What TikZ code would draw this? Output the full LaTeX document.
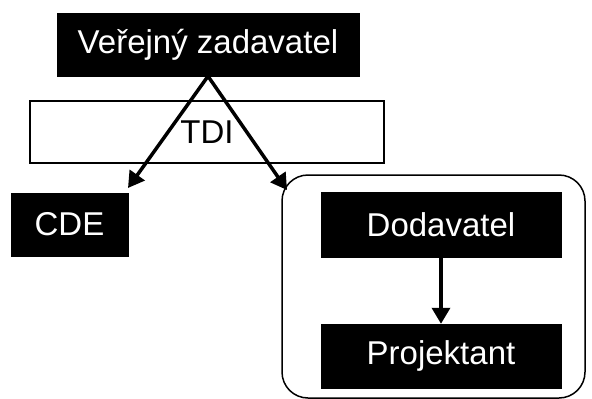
\documentclass[tikz,border=0pt]{standalone}
\usepackage{fontspec}
\setmainfont{Liberation Sans}
\usetikzlibrary{arrows.meta,positioning}
\begin{document}
\begin{tikzpicture}[x=1pt,y=-1pt,
  blackbox/.style={draw=black,fill=black,text=white,inner sep=0pt,
    font=\fontsize{33}{36}\selectfont},
  bandbox/.style={draw=black,line width=1.2pt,fill=white,inner sep=0pt,
    font=\fontsize{33}{36}\selectfont},
  groupbox/.style={draw=black,line width=1.5pt,rounded corners=26pt},
  link/.style={line width=3.5pt,-{Triangle[length=16pt,width=18pt]}}]
  \useasboundingbox (0,0) rectangle (592,399);
  % top authority
  \node[blackbox,minimum width=302pt,minimum height=63pt] (vz) at (208,44.5) {Veřejný zadavatel};
  % supervision band
  \node[bandbox,minimum width=354pt,minimum height=62pt] (tdi) at (207,132) {TDI};
  % common data environment
  \node[blackbox,minimum width=117pt,minimum height=63pt] (cde) at (69.5,224.5) {CDE};
  % contractor group
  \draw[groupbox] (282,175) rectangle (585,398);
  \coordinate (grp) at (287,190);
  \node[blackbox,minimum width=240pt,minimum height=65pt] (dod) at (441,224.5) {Dodavatel};
  \node[blackbox,minimum width=240pt,minimum height=64pt] (proj) at (441,356) {Projektant};
  \coordinate (cdetip) at (128,188);
  % connectors
  \draw[link] (vz.south) -- (cdetip);
  \draw[link] (vz.south) -- (grp);
  \draw[link] (dod.south) -- (proj.north);
\end{tikzpicture}
\end{document}
